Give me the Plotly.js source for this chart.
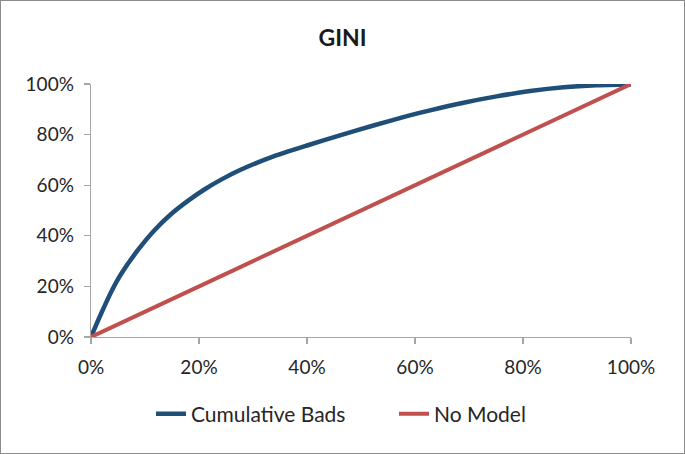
<!DOCTYPE html>
<html><head><meta charset="utf-8">
<script src="https://cdn.plot.ly/plotly-3.0.1.min.js"></script>
<style>html,body{margin:0;padding:0;background:#fff}#c{width:683px;height:452px;border:1px solid #8c8c8c}</style>
</head><body><div id="c"></div>
<script>
const popShare = [0,0.01,0.019,0.038,0.056,0.087,0.118,0.149,0.18,0.21,0.241,0.276,0.338,0.40,0.461,0.523,0.585,0.628,0.69,0.751,0.813,0.875,0.936,1.0];
const cumBads = [0,0.05,0.094,0.181,0.25,0.344,0.423,0.487,0.539,0.583,0.622,0.66,0.714,0.757,0.797,0.836,0.873,0.896,0.926,0.951,0.972,0.987,0.995,0.998];
const noModelX = [0,1];
const noModelY = [0,1];
const tickVals = [0,0.2,0.4,0.6,0.8,1];

const fnt = 'Lato, "Open Sans", sans-serif';
const axisBase = {range:[0,1], tickvals:tickVals, tickformat:'.0%', showgrid:false, zeroline:false,
  showline:true, linecolor:'#a6a6a6', linewidth:1.3, ticks:'outside', ticklen:6, tickcolor:'#a6a6a6', tickwidth:1.3,
  tickfont:{family:fnt, size:19, color:'#262626'}, fixedrange:true};
Plotly.newPlot('c', [
  {x:popShare, y:cumBads, type:'scatter', mode:'lines', name:'Cumulative Bads', line:{color:'#1f4e79', width:4.5, shape:'spline', smoothing:0.6}, cliponaxis:false},
  {x:noModelX, y:noModelY, type:'scatter', mode:'lines', name:'No Model', line:{color:'#c0504d', width:4}, cliponaxis:false}
], {
  width:683, height:452,
  margin:{l:90, r:53, t:83, b:116},
  paper_bgcolor:'#fff', plot_bgcolor:'#fff',
  title:{text:'<b>GINI</b>', font:{family:fnt, size:23, color:'#1a1a1a'}, x:0.5, xanchor:'center', y:1-37/452, yanchor:'middle', yref:'container'},
  xaxis:Object.assign({}, axisBase, {ticklabelstandoff:7}),
  yaxis:Object.assign({}, axisBase, {ticklabelstandoff:6}),
  showlegend:true,
  legend:{orientation:'h', x:150/683, xanchor:'left', xref:'container', y:1-413/452, yanchor:'middle', yref:'container',
    font:{family:fnt, size:21, color:'#262626'}, entrywidth:198, entrywidthmode:'pixels'},
  font:{family:fnt}
}, {displayModeBar:false, staticPlot:true});
</script></body></html>
